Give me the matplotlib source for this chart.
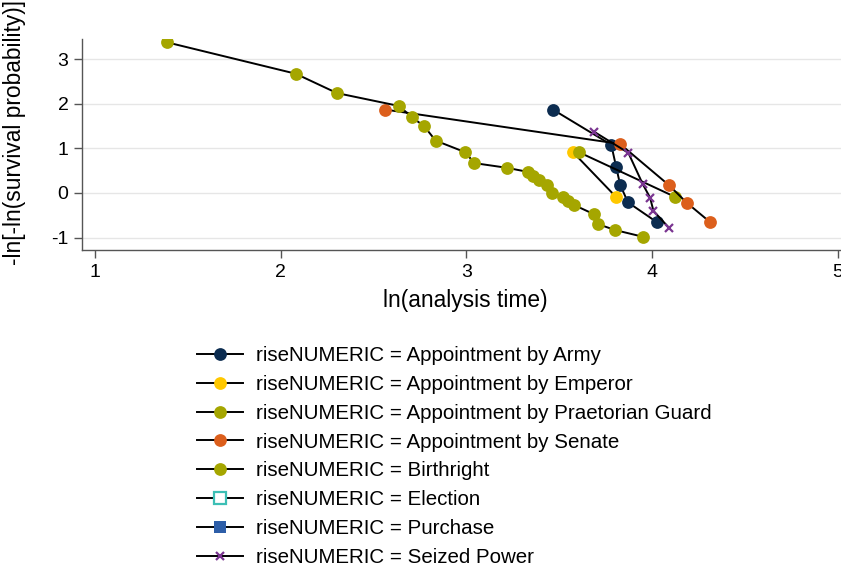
import matplotlib
matplotlib.use("Agg")
import matplotlib.pyplot as plt

plt.rcParams['font.family'] = ['Liberation Sans', 'DejaVu Sans']
plt.rcParams['axes.unicode_minus'] = False

# ln(analysis time) / -ln[-ln(S)] values
army_x = [3.466, 3.780, 3.806, 3.828, 3.870, 4.024]
army_y = [1.87, 1.08, 0.59, 0.18, -0.21, -0.65]

emperor_x = [3.575, 3.806]
emperor_y = [0.91, -0.09]

praetorian_x = [3.608, 4.125]
praetorian_y = [0.91, -0.09]

senate_x = [2.563, 3.827, 4.092, 4.187, 4.314]
senate_y = [1.87, 1.10, 0.17, -0.22, -0.66]

birth_x = [1.386, 2.080, 2.303, 2.638, 2.706, 2.772, 2.834, 2.993, 3.043,
           3.218, 3.329, 3.360, 3.393, 3.432, 3.463, 3.518, 3.549, 3.580,
           3.689, 3.710, 3.800, 3.949]
birth_y = [3.38, 2.675, 2.24, 1.95, 1.70, 1.50, 1.175, 0.915, 0.67,
           0.565, 0.475, 0.38, 0.29, 0.19, 0.0, -0.08, -0.18, -0.27,
           -0.48, -0.70, -0.83, -0.98]

election_x, election_y = [], []
purchase_x, purchase_y = [], []

seized_x = [3.687, 3.872, 3.950, 3.989, 4.007, 4.093]
seized_y = [1.375, 0.90, 0.195, -0.105, -0.40, -0.79]

x_ticks = [1, 2, 3, 4, 5]
y_ticks = [-1, 0, 1, 2, 3]

navy = '#0c2c50'
gold = '#ffc800'
olive = '#a5a600'
orange = '#dc5f1c'
teal = '#3cbfb5'
blue = '#2d5ea8'
purple = '#7a3591'

fig = plt.figure(figsize=(8.41, 5.67), dpi=100)
ax = fig.add_axes([82.3 / 841, 1 - 250 / 567, 1 - 82.3 / 841, (250 - 39.3) / 567])

series = [
    (army_x, army_y, navy, 'o', 'fill', 'Appointment by Army'),
    (emperor_x, emperor_y, gold, 'o', 'fill', 'Appointment by Emperor'),
    (praetorian_x, praetorian_y, olive, 'o', 'fill', 'Appointment by Praetorian Guard'),
    (senate_x, senate_y, orange, 'o', 'fill', 'Appointment by Senate'),
    (birth_x, birth_y, olive, 'o', 'fill', 'Birthright'),
    (election_x, election_y, teal, 's', 'hollow', 'Election'),
    (purchase_x, purchase_y, blue, 's', 'fill', 'Purchase'),
    (seized_x, seized_y, purple, 'x', 'fill', 'Seized Power'),
]

for xs, ys, col, mk, style, name in series:
    if mk == 'x':
        ms, mew = 6.0, 1.6
    else:
        ms, mew = 9.2, 0
    ax.plot(xs, ys, color='black', linewidth=1.4,
            marker=mk, markersize=ms,
            markerfacecolor=('white' if style == 'hollow' else col),
            markeredgecolor=col,
            markeredgewidth=(1.6 if style == 'hollow' else mew),
            label='riseNUMERIC = ' + name)

ax.set_xlim(0.9316, 5.017)
ax.set_ylim(-1.278, 3.446)
ax.set_xticks(x_ticks)
ax.set_yticks(y_ticks)
ax.grid(axis='y', color='#e6e6e6', linewidth=1.0)
ax.set_axisbelow(True)
for s in ['top', 'right']:
    ax.spines[s].set_visible(False)
for s in ['left', 'bottom']:
    ax.spines[s].set_color('#555555')
    ax.spines[s].set_linewidth(1.0)
ax.tick_params(axis='both', direction='out', length=6, width=1.0,
               color='#555555', labelsize=14, pad=4)

fig.text(465.5 / 841, 1 - 300 / 567, 'ln(analysis time)', ha='center', va='center',
         fontsize=16.4)
fig.text(15 / 841, 1 - 133 / 567, '-ln[-ln(survival probability)]', ha='center',
         va='center', rotation=90, fontsize=16.4)

handles, labels = ax.get_legend_handles_labels()
fig.legend(handles, labels, loc='upper left', bbox_to_anchor=(197 / 841, 1 - 346 / 567),
           frameon=False, fontsize=14.8, handlelength=2.25, handletextpad=0.6,
           labelspacing=0.48, borderpad=0, borderaxespad=0)

fig.savefig('out.png', dpi=100)
